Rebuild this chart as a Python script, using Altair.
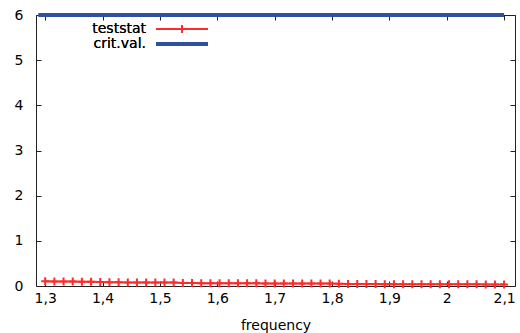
import altair as alt
import pandas as pd

# ---- data ----
freq = [1.300, 1.316, 1.332, 1.348, 1.364, 1.380, 1.396, 1.412, 1.428, 1.444,
        1.460, 1.476, 1.492, 1.508, 1.524, 1.540, 1.556, 1.572, 1.588, 1.604,
        1.620, 1.636, 1.652, 1.668, 1.684, 1.700, 1.716, 1.732, 1.748, 1.764,
        1.780, 1.796, 1.812, 1.828, 1.844, 1.860, 1.876, 1.892, 1.908, 1.924,
        1.940, 1.956, 1.972, 1.988, 2.004, 2.020, 2.036, 2.052, 2.068, 2.084,
        2.100]
teststat = [0.105, 0.100, 0.098, 0.097, 0.095, 0.093, 0.090, 0.083, 0.081, 0.080,
            0.079, 0.078, 0.077, 0.076, 0.075, 0.066, 0.064, 0.063, 0.062, 0.062,
            0.061, 0.060, 0.059, 0.059, 0.058, 0.057, 0.057, 0.056, 0.055, 0.055,
            0.054, 0.053, 0.052, 0.044, 0.043, 0.042, 0.042, 0.041, 0.040, 0.040,
            0.039, 0.039, 0.038, 0.038, 0.037, 0.037, 0.036, 0.036, 0.035, 0.035,
            0.034]
crit_freq = [1.288, 2.100]
crit_val = [6, 6]

x_ticks = [1.3, 1.4, 1.5, 1.6, 1.7, 1.8, 1.9, 2.0, 2.1]
y_ticks = [0, 1, 2, 3, 4, 5, 6]
x_domain = [1.284, 2.119]
y_domain = [0, 6]

legend_names = ["teststat", "crit.val."]
RED = "#ff2a2a"
BLUE = "#2f4fa0"
FONT = "DejaVu Sans"
FS = 14

df_t = pd.DataFrame({"frequency": freq, "value": teststat})
df_c = pd.DataFrame({"frequency": crit_freq, "value": crit_val})

common_axis = dict(offset=-5, tickSize=5, domain=False, grid=False,
                   tickColor="#222", labelColor="black", labelFont=FONT,
                   labelFontSize=FS, titleFont=FONT, titleFontSize=FS,
                   titleFontWeight="normal", titleColor="black")

x_scale = alt.Scale(domain=x_domain, nice=False, zero=False)
y_scale = alt.Scale(domain=y_domain, nice=False)

label_expr = "replace(format(datum.value, '.2~g'), '.', ',')"

CROSS = "M-1,0L1,0M0,-1L0,1"

red = alt.Chart(df_t).mark_line(
    color=RED, strokeWidth=2,
    point=alt.OverlayMarkDef(shape=CROSS, size=64, filled=False,
                             stroke=RED, strokeWidth=2)
).encode(
    x=alt.X("frequency:Q", scale=x_scale,
            axis=alt.Axis(orient="bottom", values=x_ticks, labelExpr=label_expr,
                          labelPadding=5, title="frequency", titlePadding=13,
                          **common_axis)),
    y=alt.Y("value:Q", scale=y_scale,
            axis=alt.Axis(orient="left", values=y_ticks, labelPadding=13,
                          title=None, **common_axis)),
)

blue = alt.Chart(df_c).mark_line(color=BLUE, strokeWidth=4).encode(
    x=alt.X("frequency:Q", scale=x_scale,
            axis=alt.Axis(orient="top", values=x_ticks, labels=False, title=None,
                          **common_axis)),
    y=alt.Y("value:Q", scale=y_scale,
            axis=alt.Axis(orient="right", values=y_ticks, labels=False, title=None,
                          **common_axis)),
)

# ---- gnuplot-style key (text left, sample right) ----
key_rows = [14, 29]
key_text_x = 110
key_line = (120, 172)

leg = []
for name, color, ry, sw in zip(legend_names, [RED, BLUE], key_rows, [2, 4]):
    leg.append(alt.Chart(df_c).mark_text(align="right", baseline="middle",
                                         font=FONT, fontSize=FS, color="black").encode(
        x=alt.value(key_text_x), y=alt.value(ry), text=alt.value(name)))
    leg.append(alt.Chart(df_c).mark_rule(color=color, strokeWidth=sw).encode(
        x=alt.value(key_line[0]), x2=alt.value(key_line[1]), y=alt.value(ry)))
leg.append(alt.Chart(df_c).mark_point(shape=CROSS, size=64,
                                      filled=False, color=RED, strokeWidth=2,
                                      opacity=1).encode(
    x=alt.value((key_line[0] + key_line[1]) / 2), y=alt.value(key_rows[0])))

chart = alt.layer(red, blue, *leg).resolve_axis(
    x="independent", y="independent"
).properties(
    width=479, height=271,
    autosize=alt.AutoSizeParams(type="none"),
    padding={"left": 36, "top": 15, "right": 5, "bottom": 47},
).configure_view(stroke="#222", strokeWidth=1)

chart.save("out.html", embed_options={"renderer": "svg", "actions": False})
